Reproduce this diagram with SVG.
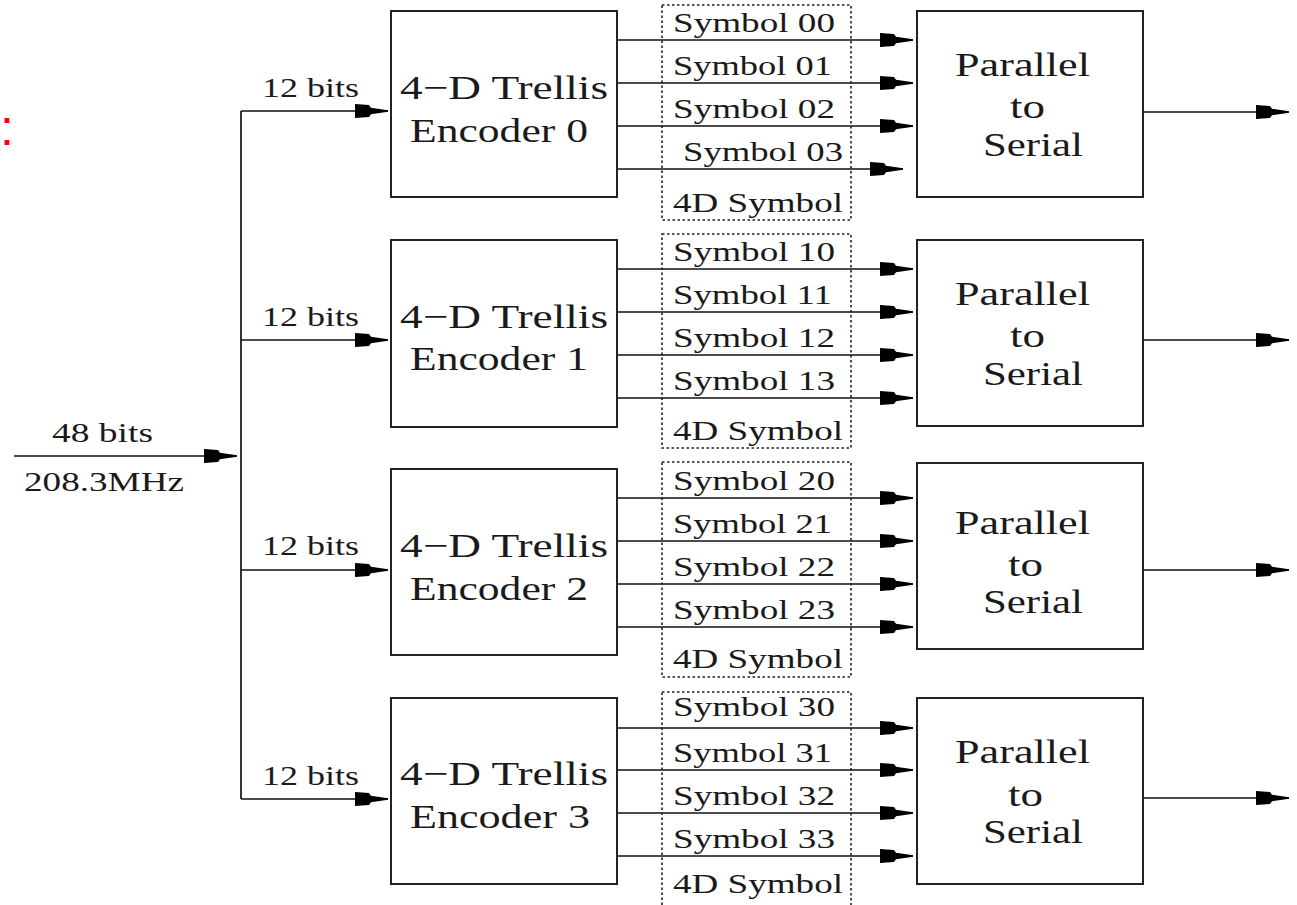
<svg xmlns="http://www.w3.org/2000/svg" width="1297" height="905" viewBox="0 0 1297 905">
<defs>
<marker id="ah" markerUnits="userSpaceOnUse" markerWidth="40" markerHeight="16" viewBox="-34 -8 36 16" refX="0" refY="0" orient="auto" overflow="visible">
<path d="M-33,-7 L-19,-6 L-17,-3.2 L0,-0.7 L0,0.7 L-17,3.2 L-19,6 L-33,7 Z" fill="#000"/>
</marker>
<style>
.box{fill:#fff;stroke:#222;stroke-width:2}
.dot{fill:none;stroke:#222;stroke-width:1.6;stroke-dasharray:2.5 2.5}
.ln{fill:none;stroke:#111;stroke-width:1.7}
.ar{marker-end:url(#ah)}
text{font-family:"Liberation Serif","Times New Roman",serif;fill:#1a1a1a}
.s{font-size:27px}
.e{font-size:34px}
.p{font-size:33px}
.b{font-size:28px}
</style>
</defs>
<rect width="1297" height="905" fill="#fff"/>
<text x="0" y="145" style="font-family:'Liberation Sans',Arial,sans-serif;font-size:50px;fill:#ff0000">:</text>

<g id="connectors">
<line class="ln ar" x1="14" y1="456" x2="237" y2="456"/>
<line class="ln" x1="241" y1="111" x2="241" y2="799"/>
<line class="ln ar" x1="241" y1="111" x2="388" y2="111"/>
<line class="ln ar" x1="241" y1="340" x2="388" y2="340"/>
<line class="ln ar" x1="241" y1="570" x2="388" y2="570"/>
<line class="ln ar" x1="241" y1="799" x2="388" y2="799"/>
<line class="ln ar" x1="617" y1="40" x2="913" y2="40"/>
<line class="ln ar" x1="617" y1="83" x2="913" y2="83"/>
<line class="ln ar" x1="617" y1="126" x2="913" y2="126"/>
<line class="ln ar" x1="617" y1="169" x2="903" y2="169"/>
<line class="ln ar" x1="617" y1="269" x2="913" y2="269"/>
<line class="ln ar" x1="617" y1="312" x2="913" y2="312"/>
<line class="ln ar" x1="617" y1="355" x2="913" y2="355"/>
<line class="ln ar" x1="617" y1="398" x2="913" y2="398"/>
<line class="ln ar" x1="617" y1="498" x2="913" y2="498"/>
<line class="ln ar" x1="617" y1="541" x2="913" y2="541"/>
<line class="ln ar" x1="617" y1="584" x2="913" y2="584"/>
<line class="ln ar" x1="617" y1="627" x2="913" y2="627"/>
<line class="ln ar" x1="617" y1="728" x2="913" y2="728"/>
<line class="ln ar" x1="617" y1="770" x2="913" y2="770"/>
<line class="ln ar" x1="617" y1="813" x2="913" y2="813"/>
<line class="ln ar" x1="617" y1="856" x2="913" y2="856"/>
<line class="ln ar" x1="1143" y1="112" x2="1289" y2="112"/>
<line class="ln ar" x1="1143" y1="340" x2="1289" y2="340"/>
<line class="ln ar" x1="1143" y1="570" x2="1289" y2="570"/>
<line class="ln ar" x1="1143" y1="798" x2="1289" y2="798"/>
</g>

<g id="input-labels">
<text class="s" x="52" y="442" textLength="101" lengthAdjust="spacingAndGlyphs">48 bits</text>
<text class="s" x="24" y="491" textLength="160" lengthAdjust="spacingAndGlyphs">208.3MHz</text>
<text class="b" x="262" y="97" textLength="97" lengthAdjust="spacingAndGlyphs">12 bits</text>
<text class="b" x="262" y="326" textLength="97" lengthAdjust="spacingAndGlyphs">12 bits</text>
<text class="b" x="262" y="555" textLength="97" lengthAdjust="spacingAndGlyphs">12 bits</text>
<text class="b" x="262" y="785" textLength="97" lengthAdjust="spacingAndGlyphs">12 bits</text>
</g>

<g id="encoder0">
<rect class="box" x="391" y="11" width="226" height="186"/>
<text class="e" x="400" y="99" textLength="208" lengthAdjust="spacingAndGlyphs">4−D Trellis</text>
<text class="e" x="410" y="142" textLength="178" lengthAdjust="spacingAndGlyphs">Encoder 0</text>
</g>
<g id="encoder1">
<rect class="box" x="391" y="240" width="226" height="187"/>
<text class="e" x="400" y="328" textLength="208" lengthAdjust="spacingAndGlyphs">4−D Trellis</text>
<text class="e" x="410" y="370" textLength="178" lengthAdjust="spacingAndGlyphs">Encoder 1</text>
</g>
<g id="encoder2">
<rect class="box" x="391" y="469" width="226" height="186"/>
<text class="e" x="400" y="557" textLength="208" lengthAdjust="spacingAndGlyphs">4−D Trellis</text>
<text class="e" x="410" y="600" textLength="178" lengthAdjust="spacingAndGlyphs">Encoder 2</text>
</g>
<g id="encoder3">
<rect class="box" x="391" y="698" width="226" height="186"/>
<text class="e" x="400" y="785" textLength="208" lengthAdjust="spacingAndGlyphs">4−D Trellis</text>
<text class="e" x="410" y="828" textLength="180" lengthAdjust="spacingAndGlyphs">Encoder 3</text>
</g>

<g id="symbols0">
<rect class="dot" x="662" y="5" width="189" height="215"/>
<text class="s" x="673" y="32" textLength="162" lengthAdjust="spacingAndGlyphs">Symbol 00</text>
<text class="s" x="673" y="75" textLength="159" lengthAdjust="spacingAndGlyphs">Symbol 01</text>
<text class="s" x="673" y="118" textLength="162" lengthAdjust="spacingAndGlyphs">Symbol 02</text>
<text class="s" x="683" y="161" textLength="160" lengthAdjust="spacingAndGlyphs">Symbol 03</text>
<text class="s" x="673" y="212" textLength="170" lengthAdjust="spacingAndGlyphs">4D Symbol</text>
</g>
<g id="symbols1">
<rect class="dot" x="662" y="234" width="189" height="214"/>
<text class="s" x="673" y="261" textLength="162" lengthAdjust="spacingAndGlyphs">Symbol 10</text>
<text class="s" x="673" y="304" textLength="159" lengthAdjust="spacingAndGlyphs">Symbol 11</text>
<text class="s" x="673" y="347" textLength="162" lengthAdjust="spacingAndGlyphs">Symbol 12</text>
<text class="s" x="673" y="390" textLength="162" lengthAdjust="spacingAndGlyphs">Symbol 13</text>
<text class="s" x="673" y="440" textLength="170" lengthAdjust="spacingAndGlyphs">4D Symbol</text>
</g>
<g id="symbols2">
<rect class="dot" x="662" y="462" width="189" height="215"/>
<text class="s" x="673" y="490" textLength="162" lengthAdjust="spacingAndGlyphs">Symbol 20</text>
<text class="s" x="673" y="533" textLength="159" lengthAdjust="spacingAndGlyphs">Symbol 21</text>
<text class="s" x="673" y="576" textLength="162" lengthAdjust="spacingAndGlyphs">Symbol 22</text>
<text class="s" x="673" y="619" textLength="162" lengthAdjust="spacingAndGlyphs">Symbol 23</text>
<text class="s" x="673" y="668" textLength="170" lengthAdjust="spacingAndGlyphs">4D Symbol</text>
</g>
<g id="symbols3">
<rect class="dot" x="662" y="692" width="189" height="230"/>
<text class="s" x="673" y="716" textLength="162" lengthAdjust="spacingAndGlyphs">Symbol 30</text>
<text class="s" x="673" y="762" textLength="159" lengthAdjust="spacingAndGlyphs">Symbol 31</text>
<text class="s" x="673" y="805" textLength="162" lengthAdjust="spacingAndGlyphs">Symbol 32</text>
<text class="s" x="673" y="848" textLength="162" lengthAdjust="spacingAndGlyphs">Symbol 33</text>
<text class="s" x="673" y="893" textLength="170" lengthAdjust="spacingAndGlyphs">4D Symbol</text>
</g>

<g id="p2s0">
<rect class="box" x="917" y="11" width="226" height="186"/>
<text class="p" x="955" y="76" textLength="135" lengthAdjust="spacingAndGlyphs">Parallel</text>
<text class="p" x="1010" y="118" textLength="35" lengthAdjust="spacingAndGlyphs">to</text>
<text class="p" x="983" y="156" textLength="100" lengthAdjust="spacingAndGlyphs">Serial</text>
</g>
<g id="p2s1">
<rect class="box" x="917" y="240" width="226" height="186"/>
<text class="p" x="955" y="305" textLength="135" lengthAdjust="spacingAndGlyphs">Parallel</text>
<text class="p" x="1010" y="347" textLength="35" lengthAdjust="spacingAndGlyphs">to</text>
<text class="p" x="983" y="385" textLength="100" lengthAdjust="spacingAndGlyphs">Serial</text>
</g>
<g id="p2s2">
<rect class="box" x="917" y="463" width="226" height="186"/>
<text class="p" x="955" y="534" textLength="135" lengthAdjust="spacingAndGlyphs">Parallel</text>
<text class="p" x="1008" y="576" textLength="35" lengthAdjust="spacingAndGlyphs">to</text>
<text class="p" x="983" y="613" textLength="100" lengthAdjust="spacingAndGlyphs">Serial</text>
</g>
<g id="p2s3">
<rect class="box" x="917" y="698" width="226" height="186"/>
<text class="p" x="955" y="763" textLength="135" lengthAdjust="spacingAndGlyphs">Parallel</text>
<text class="p" x="1008" y="806" textLength="35" lengthAdjust="spacingAndGlyphs">to</text>
<text class="p" x="983" y="843" textLength="100" lengthAdjust="spacingAndGlyphs">Serial</text>
</g>
</svg>
